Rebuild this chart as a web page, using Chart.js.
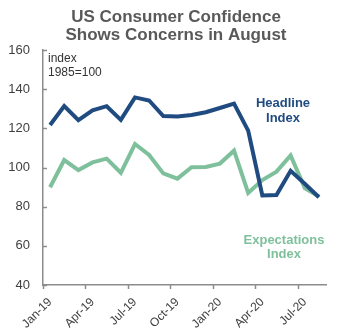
<!DOCTYPE html>
<html>
<head>
<meta charset="utf-8">
<script src="https://cdn.jsdelivr.net/npm/chart.js@4"></script>
<style>
  html, body { margin: 0; padding: 0; background: #fff; }
  #wrap { width: 345px; height: 335px; position: relative; }
</style>
</head>
<body>
<div id="wrap"><canvas id="chart" width="345" height="335"></canvas></div>
<script>
// Data (monthly, Jan-19 .. Aug-20)
const months = ["Jan-19","Feb-19","Mar-19","Apr-19","May-19","Jun-19","Jul-19","Aug-19","Sep-19","Oct-19",
  "Nov-19","Dec-19","Jan-20","Feb-20","Mar-20","Apr-20","May-20","Jun-20","Jul-20","Aug-20"];
const headline = [121.7,131.4,124.2,129.2,131.3,124.3,135.8,134.2,126.3,126.1,
  126.8,128.2,130.4,132.6,118.8,85.7,85.9,98.3,91.7,84.8];
const expectations = [89.9,103.8,98.7,102.6,104.5,97.3,112.0,106.4,97.0,94.3,
  100.1,100.3,102.0,108.6,87.0,93.6,97.9,106.2,89.5,85.2];
const tickLabels = ["Jan-19","Apr-19","Jul-19","Oct-19","Jan-20","Apr-20","Jul-20"];
const yTicks = [40, 60, 80, 100, 120, 140, 160];

const navy = "#1f4b80";
const green = "#7fc09c";
const axisGray = "#8c8c8c";
const textGray = "#404040";

// points sit in the middle of each month slot
const toPoints = (arr) => arr.map((v, i) => ({x: i + 0.5, y: v}));

// texts and tick marks
const extras = {
  id: "extras",
  afterDraw(chart) {
    const ctx = chart.ctx;
    const x = chart.scales.x;
    const y = chart.scales.y;
    ctx.save();
    ctx.strokeStyle = axisGray;
    ctx.lineWidth = 1.5;
    // y ticks point inward
    yTicks.forEach(v => {
      const py = Math.round(y.getPixelForValue(v)) + 0.5;
      ctx.beginPath();
      ctx.moveTo(y.right, py);
      ctx.lineTo(y.right + 4, py);
      ctx.stroke();
    });
    // x ticks on month boundaries
    tickLabels.forEach(l => {
      const px = Math.round(x.getPixelForValue(months.indexOf(l))) + 0.5;
      ctx.beginPath();
      ctx.moveTo(px, x.top);
      ctx.lineTo(px, x.top + 4);
      ctx.stroke();
    });

    ctx.textAlign = "center";
    ctx.textBaseline = "alphabetic";
    ctx.fillStyle = "#595959";
    ctx.font = "bold 17px 'Liberation Sans', Arial, sans-serif";
    ctx.fillText("US Consumer Confidence", 176, 22);
    ctx.fillText("Shows Concerns in August", 176, 40);

    ctx.textAlign = "left";
    ctx.fillStyle = "#333";
    ctx.font = "12px 'Liberation Sans', Arial, sans-serif";
    ctx.fillText("index", 48, 62);
    ctx.fillText("1985=100", 48, 76);

    ctx.textAlign = "center";
    ctx.font = "bold 13px 'Liberation Sans', Arial, sans-serif";
    ctx.fillStyle = navy;
    ctx.fillText("Headline", 283, 107);
    ctx.fillText("Index", 283, 122);
    ctx.fillStyle = green;
    ctx.fillText("Expectations", 284, 244);
    ctx.fillText("Index", 284, 258);
    ctx.restore();
  }
};

new Chart(document.getElementById("chart"), {
  type: "line",
  data: {
    datasets: [
      {label: "Headline Index", data: toPoints(headline), borderColor: navy, borderWidth: 4,
       pointRadius: 0, tension: 0, borderJoinStyle: "miter"},
      {label: "Expectations Index", data: toPoints(expectations), borderColor: green, borderWidth: 4,
       pointRadius: 0, tension: 0, borderJoinStyle: "miter"}
    ]
  },
  options: {
    responsive: false,
    animation: false,
    layout: {padding: {top: 50, right: 19, left: 0, bottom: 0}},
    plugins: {legend: {display: false}, tooltip: {enabled: false}},
    scales: {
      x: {
        type: "linear",
        min: 0,
        max: months.length,
        // labels sit under the month point, tick marks are drawn on boundaries
        afterBuildTicks: (scale) => {
          scale.ticks = tickLabels.map(l => ({value: months.indexOf(l) + 0.5}));
        },
        afterFit: (scale) => { scale.height = 50; },
        ticks: {
          callback: (v) => months[Math.floor(v)],
          maxRotation: 45,
          minRotation: 45,
          autoSkip: false,
          padding: 10,
          color: textGray,
          font: {family: "'Liberation Sans', Arial, sans-serif", size: 12}
        },
        grid: {display: false, drawTicks: false, tickLength: 0},
        border: {color: axisGray, width: 1.5}
      },
      y: {
        min: 40,
        max: 160,
        afterBuildTicks: (scale) => {
          scale.ticks = yTicks.map(v => ({value: v}));
        },
        afterFit: (scale) => { scale.width = 43; },
        ticks: {
          padding: 5,
          color: textGray,
          font: {family: "'Liberation Sans', Arial, sans-serif", size: 13}
        },
        grid: {display: false},
        border: {color: axisGray, width: 1.5}
      }
    }
  },
  plugins: [extras]
});
</script>
</body>
</html>
